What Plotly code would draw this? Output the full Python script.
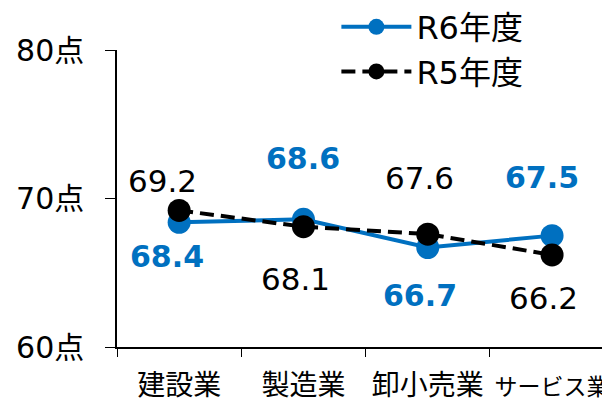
import plotly.graph_objects as go

categories = ["建設業", "製造業", "卸小売業", "サービス業"]
tick_labels = ["建設業", "製造業", "卸小売業", "<span style='font-size:23px'>サービス業</span>"]
r6_values = [68.4, 68.6, 66.7, 67.5]
r5_values = [69.2, 68.1, 67.6, 66.2]
y_tickvals = [60, 70, 80]
y_ticktext = ["60点", "70点", "80点"]

# label offsets (pixels) relative to the data point
r6_yshift = [-34, 61, -48, 58]
r6_xshift = [-12, 0, -8, -10]
r5_yshift = [29, -52, 56, -43]
r5_xshift = [-17, -8, -8, -9]

BLUE = "#0070C0"
FONT = "DejaVu Sans, Noto Sans CJK JP, sans-serif"

fig = go.Figure()
fig.add_trace(go.Scatter(
    x=categories, y=r6_values, name="R6年度", mode="lines+markers",
    line=dict(color=BLUE, width=4), marker=dict(size=23, color=BLUE),
))
fig.add_trace(go.Scatter(
    x=categories, y=r5_values, name="R5年度", mode="lines+markers",
    line=dict(color="black", width=4, dash="14px,7px"), marker=dict(size=23, color="black"),
))

for c, v, dx, dy in zip(categories, r6_values, r6_xshift, r6_yshift):
    fig.add_annotation(x=c, y=v, text=f"<b>{v:.1f}</b>", showarrow=False,
                       xshift=dx, yshift=dy, font=dict(size=30, color=BLUE, family=FONT))
for c, v, dx, dy in zip(categories, r5_values, r5_xshift, r5_yshift):
    fig.add_annotation(x=c, y=v, text=f"{v:.1f}", showarrow=False,
                       xshift=dx, yshift=dy, font=dict(size=31, color="black", family=FONT))

fig.update_layout(
    width=602, height=398,
    margin=dict(l=109, r=0, t=42, b=59, autoexpand=False),
    paper_bgcolor="white", plot_bgcolor="white",
    font=dict(family=FONT, size=30, color="black"),
    showlegend=True,
    legend=dict(x=0.445, y=1.17, xanchor="left", yanchor="top",
                bgcolor="rgba(0,0,0,0)", font=dict(size=32), itemwidth=70,
                tracegroupgap=0),
    xaxis=dict(
        type="category", range=[-0.5, 3.466],
        tickmode="array", tickvals=categories, ticktext=tick_labels,
        tickson="boundaries", ticks="outside", ticklen=8, tickcolor="black",
        showline=True, linecolor="black", linewidth=1.5,
        showgrid=False, zeroline=False, ticklabelstandoff=13,
        tickangle=0, automargin=False,
        tickfont=dict(size=28, family=FONT),
    ),
    yaxis=dict(
        range=[60, 80], tickvals=y_tickvals, ticktext=y_ticktext,
        ticks="outside", ticklen=10, tickcolor="black",
        showline=True, linecolor="black", linewidth=1.5,
        showgrid=False, zeroline=False, ticklabelstandoff=15,
        automargin=False,
        tickfont=dict(size=30, family=FONT),
    ),
)

fig.write_html("out.html")
